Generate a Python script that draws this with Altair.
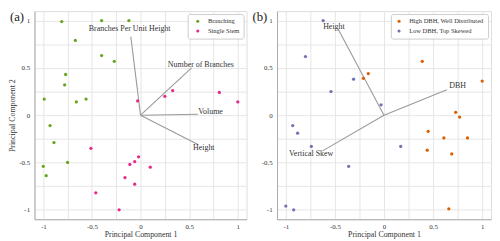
import altair as alt
import pandas as pd

FONT = "Liberation Serif"

# ---------------- Panel (a) data ----------------
a_branch_x = [-0.81, -0.40, -0.12, -0.67, -0.40, -0.27, -0.77, -0.78, -0.99, -0.66, -0.56, -0.93, -0.89, -1.00, -0.75, -0.97]
a_branch_y = [0.99, 1.00, 1.00, 0.79, 0.63, 0.57, 0.43, 0.32, 0.17, 0.14, 0.17, -0.11, -0.29, -0.54, -0.50, -0.64]
a_single_x = [-0.03, 0.25, 0.33, 0.81, 1.00, -0.51, -0.02, -0.06, -0.11, 0.10, -0.16, -0.06, -0.46, -0.22]
a_single_y = [0.15, 0.20, 0.26, 0.24, 0.14, -0.35, -0.44, -0.49, -0.52, -0.55, -0.66, -0.73, -0.82, -1.00]
a_groups = ["Branching", "Single Stem"]
a_colors = ["#66a61e", "#e7298a"]

a_load_names = ["Branches Per Unit Height", "Number of Branches", "Volume", "Height"]
a_load_x = [-0.10, 0.525, 0.59, 0.59]
a_load_y = [0.83, 0.50, 0.01, -0.31]
a_label_x = [-0.112, 0.62, 0.72, 0.65]
a_label_y = [0.914, 0.53, 0.03, -0.35]

# ---------------- Panel (b) data ----------------
b_high_x = [-0.21, -0.16, 0.39, 1.00, 0.73, 0.77, 0.45, 0.61, 0.85, 0.44, 0.69, 0.66]
b_high_y = [0.39, 0.44, 0.57, 0.36, 0.03, -0.02, -0.17, -0.24, -0.24, -0.37, -0.41, -0.99]
b_low_x = [-0.62, -0.80, -0.31, -0.54, -0.03, -0.93, -0.88, -0.74, 0.17, -0.36, -1.00, -0.92]
b_low_y = [1.00, 0.62, 0.38, 0.25, 0.11, -0.11, -0.19, -0.33, -0.33, -0.54, -0.96, -1.00]
b_groups = ["High DBH, Well Distributed", "Low DBH, Top Skewed"]
b_colors = ["#d95f02", "#7570b3"]

b_load_names = ["Height", "DBH", "Vertical Skew"]
b_load_x = [-0.465, 0.64, -0.626]
b_load_y = [0.905, 0.27, -0.377]
b_label_x = [-0.51, 0.75, -0.742]
b_label_y = [0.93, 0.31, -0.408]

tick_vals = [-1, -0.75, -0.5, -0.25, 0, 0.25, 0.5, 0.75, 1]
label_expr = "datum.value % 0.5 == 0 ? '' + datum.value : ''"


def panel(xs1, ys1, xs2, ys2, groups, colors, lnames, lx, ly, tx, ty,
          tag, ytitle, sym_offset, width, height):
    pts = pd.DataFrame({
        "x": xs1 + xs2,
        "y": ys1 + ys2,
        "group": [groups[0]] * len(xs1) + [groups[1]] * len(xs2),
    })
    loads = pd.DataFrame({"x": [0.0] * len(lx), "y": [0.0] * len(ly),
                          "x2": lx, "y2": ly, "name": lnames})
    labels = pd.DataFrame({"x": tx, "y": ty, "name": lnames})

    X = alt.X("x:Q", scale=alt.Scale(domain=[-1.09, 1.09], nice=False, zero=False),
              axis=alt.Axis(values=tick_vals, labelExpr=label_expr,
                            title="Principal Component 1"))
    if ytitle:
        yaxis = alt.Axis(values=tick_vals, labelExpr=label_expr, title=ytitle)
    else:
        yaxis = alt.Axis(values=tick_vals, labelExpr=label_expr, title=None)
    Y = alt.Y("y:Q", scale=alt.Scale(domain=[-1.1, 1.1], nice=False, zero=False),
              axis=yaxis)

    rules = alt.Chart(loads).mark_rule(color="#9a9a9a", strokeWidth=1.1).encode(
        x=X, y=Y, x2="x2:Q", y2="y2:Q")
    points = alt.Chart(pts).mark_circle(size=11, opacity=1).encode(
        x=X, y=Y,
        color=alt.Color("group:N",
                        scale=alt.Scale(domain=groups, range=colors),
                        legend=alt.Legend(title=None, orient="top-right", offset=3,
                                          fillColor="white", strokeColor="#cccccc",
                                          cornerRadius=2, padding=4,
                                          labelFontSize=6.6, labelFont=FONT,
                                          labelColor="#333333",
                                          symbolSize=10, symbolType="circle",
                                          symbolOffset=sym_offset, labelOffset=7,
                                          rowPadding=3)))
    texts = alt.Chart(labels).mark_text(fontSize=8.1, font=FONT, color="#333333",
                                        align="center", baseline="middle").encode(
        x=X, y=Y, text="name:N")
    tagc = alt.Chart(pd.DataFrame({"t": [tag]})).mark_text(
        fontSize=13, font=FONT, color="#222222", align="left", baseline="middle",
        x=-25, y=6).encode(text="t:N")
    return alt.layer(rules, points, texts, tagc).properties(width=width, height=height)


left = panel(a_branch_x, a_branch_y, a_single_x, a_single_y, a_groups, a_colors,
             a_load_names, a_load_x, a_load_y, a_label_x, a_label_y,
             "(a)", "Principal Component 2", 3, 216, 212)
right = panel(b_high_x, b_high_y, b_low_x, b_low_y, b_groups, b_colors,
              b_load_names, b_load_x, b_load_y, b_label_x, b_label_y,
              "(b)", None, 1, 218, 212)

chart = alt.hconcat(left, right, spacing=31, bounds="flush").resolve_scale(
    color="independent"
).resolve_legend(color="independent").properties(
    padding={"left": 0, "top": 0, "right": 0, "bottom": 0}
).configure(font=FONT).configure_view(
    stroke="#dddddd", strokeWidth=1
).configure_axis(
    labelFont=FONT, titleFont=FONT, labelFontSize=7, titleFontSize=8,
    labelColor="#333333", titleColor="#333333", titleFontWeight="normal",
    ticks=False, gridColor="#e6e6e6", gridWidth=1,
    domainColor="#aaaaaa", domainWidth=1
).configure_axisX(labelPadding=3, titlePadding=2).configure_axisY(
    labelPadding=5, titlePadding=2)

chart.save("out.html", embed_options={"renderer": "svg", "actions": False})
